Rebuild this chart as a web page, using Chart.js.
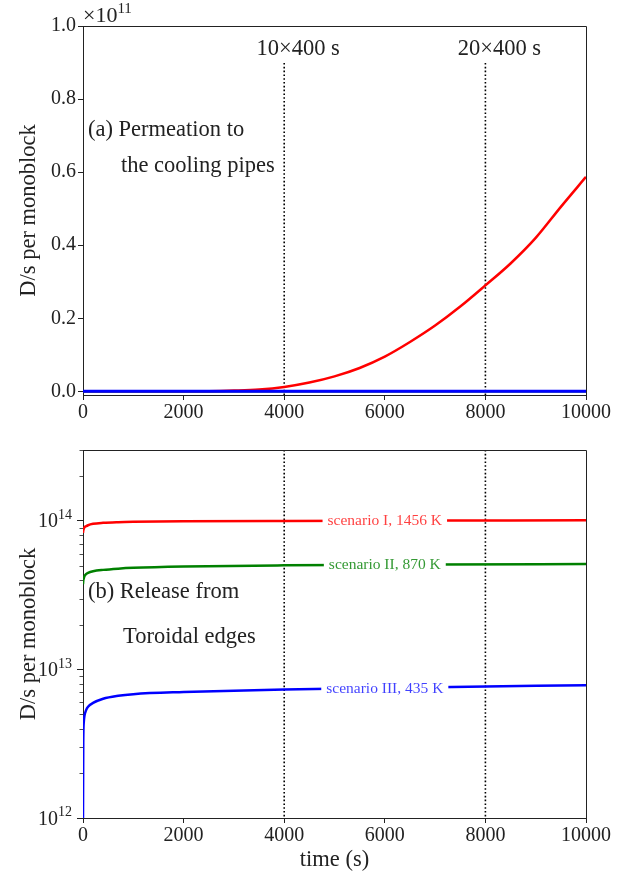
<!DOCTYPE html>
<html>
<head>
<meta charset="utf-8">
<script src="https://cdn.jsdelivr.net/npm/chart.js@4.4.1/dist/chart.umd.min.js"></script>
<style>
  body { margin: 0; background: #fff; }
  canvas { position: absolute; left: 0; }
  #permChart { top: 0; }
  #releaseChart { top: 430px; }
</style>
</head>
<body>
<canvas id="permChart" width="628" height="430"></canvas>
<canvas id="releaseChart" width="628" height="447"></canvas>
<script>
// (a) permeation to the cooling pipes, in units of 1e11 D/s
const permTime = [0, 1000, 2000, 2500, 3000, 3500, 4000, 4500, 5000, 5500, 6000, 6500, 7000, 7500, 8000, 8500, 9000, 9500, 10000];
const permScenarioI = [0, 0, 0, 0.0003, 0.002, 0.005, 0.012, 0.024, 0.041, 0.064, 0.095, 0.135, 0.18, 0.232, 0.29, 0.35, 0.42, 0.505, 0.587];
const permScenarioII = [0, 0, 0, 0, 0, 0, 0, 0, 0, 0, 0, 0, 0, 0, 0, 0, 0, 0, 0];
const permScenarioIII = [0, 0, 0, 0, 0, 0, 0, 0, 0, 0, 0, 0, 0, 0, 0, 0, 0, 0, 0];
const permYTicks = [0, 0.2, 0.4, 0.6, 0.8, 1.0];

// (b) release from toroidal edges, D/s
const relTime = [0, 5, 15, 30, 60, 100, 200, 400, 700, 1000, 2000, 4000, 7000, 10000];
const relScenarioI = [8.3e13, 8.6e13, 8.85e13, 9.05e13, 9.2e13, 9.35e13, 9.55e13, 9.7e13, 9.8e13, 9.85e13, 9.93e13, 1.0e14, 1.005e14, 1.01e14];
const relScenarioII = [3.75e13, 3.95e13, 4.1e13, 4.25e13, 4.38e13, 4.47e13, 4.58e13, 4.68e13, 4.77e13, 4.83e13, 4.93e13, 5.02e13, 5.08e13, 5.12e13];
const relScenarioIII = [1e12, 3.2e12, 4.4e12, 4.9e12, 5.3e12, 5.6e12, 5.95e12, 6.35e12, 6.65e12, 6.82e12, 7.05e12, 7.33e12, 7.6e12, 7.83e12];
const relYTicks = [1e12, 1e13, 1e14];

const xTicks = [0, 2000, 4000, 6000, 8000, 10000];
const markTimes = [4000, 8000];
const markLabels = ['10\u00d7400 s', '20\u00d7400 s'];
const scenarioNames = ['scenario I, 1456 K', 'scenario II, 870 K', 'scenario III, 435 K'];
const labelTime = 6000;

const SERIF = '"Liberation Serif", "DejaVu Serif", serif';
const INK = '#222';
const RED = '#ff0000', GREEN = '#008000', BLUE = '#0000ff';

function pts(xs, ys) { return xs.map((x, i) => ({ x: x, y: ys[i] })); }

function drawPow(ctx, base, exp, xRight, yMid, size) {
  ctx.save();
  ctx.fillStyle = INK;
  ctx.textBaseline = 'alphabetic';
  ctx.textAlign = 'left';
  ctx.font = (size * 0.7) + 'px ' + SERIF;
  const ew = ctx.measureText(exp).width;
  ctx.font = size + 'px ' + SERIF;
  const bw = ctx.measureText(base).width;
  const baseY = yMid + size * 0.33;
  ctx.fillText(base, xRight - ew - bw, baseY);
  ctx.font = (size * 0.7) + 'px ' + SERIF;
  ctx.fillText(exp, xRight - ew, baseY - size * 0.42);
  ctx.restore();
}

const frame = {
  id: 'frame',
  beforeDatasetsDraw(chart) {
    const { ctx, chartArea: a, scales } = chart;
    ctx.save();
    ctx.strokeStyle = '#000';
    ctx.lineWidth = 1.6;
    ctx.setLineDash([1.6, 2.2]);
    const top = chart.canvas.id === 'permChart' ? 63 : a.top;
    markTimes.forEach(t => {
      const x = scales.x.getPixelForValue(t);
      ctx.beginPath();
      ctx.moveTo(x, top);
      ctx.lineTo(x, a.bottom);
      ctx.stroke();
    });
    ctx.restore();
  },
  afterDraw(chart) {
    const { ctx, chartArea: a } = chart;
    ctx.save();
    ctx.strokeStyle = INK;
    ctx.lineWidth = 1;
    ctx.beginPath();
    ctx.moveTo(a.left, a.top + 0.5);
    ctx.lineTo(a.right + 0.5, a.top + 0.5);
    ctx.lineTo(a.right + 0.5, a.bottom);
    ctx.stroke();
    ctx.restore();
  }
};

const permText = {
  id: 'permText',
  afterDraw(chart) {
    const { ctx, chartArea: a, scales } = chart;
    ctx.save();
    ctx.fillStyle = INK;
    ctx.font = '22.5px ' + SERIF;
    ctx.textBaseline = 'alphabetic';
    ctx.textAlign = 'center';
    markTimes.forEach((t, i) => {
      ctx.fillText(markLabels[i], scales.x.getPixelForValue(t) + 14, 55);
    });
    ctx.textAlign = 'left';
    ctx.fillText('(a) Permeation to', a.left + 5, 136);
    ctx.fillText('the cooling pipes', a.left + 38, 172);
    // axis multiplier
    ctx.font = '22px ' + SERIF;
    ctx.fillText('\u00d710', a.left, 22);
    const w = ctx.measureText('\u00d710').width;
    ctx.font = '15px ' + SERIF;
    ctx.fillText('11', a.left + w, 13);
    ctx.restore();
  }
};

function valueAt(xs, ys, t) {
  for (let i = 1; i < xs.length; i++) {
    if (t <= xs[i]) {
      const f = (t - xs[i - 1]) / (xs[i] - xs[i - 1]);
      return Math.pow(10, Math.log10(ys[i - 1]) + f * (Math.log10(ys[i]) - Math.log10(ys[i - 1])));
    }
  }
  return ys[ys.length - 1];
}

const relText = {
  id: 'relText',
  afterDatasetsDraw(chart) {
    const { ctx, scales } = chart;
    ctx.save();
    // inline line labels
    ctx.font = '15.5px ' + SERIF;
    ctx.textAlign = 'center';
    ctx.textBaseline = 'middle';
    const series = [relScenarioI, relScenarioII, relScenarioIII];
    const cols = ['rgba(255,0,0,0.75)', 'rgba(0,128,0,0.8)', 'rgba(0,0,255,0.75)'];
    series.forEach((ys, i) => {
      const x = scales.x.getPixelForValue(labelTime);
      const y = scales.y.getPixelForValue(valueAt(relTime, ys, labelTime));
      const w = ctx.measureText(scenarioNames[i]).width;
      ctx.fillStyle = '#fff';
      ctx.fillRect(x - w / 2 - 5, y - 8, w + 10, 16);
      ctx.fillStyle = cols[i];
      ctx.fillText(scenarioNames[i], x, y + 0.5);
    });
    ctx.restore();
  },
  afterDraw(chart) {
    const { ctx, chartArea: a, scales } = chart;
    ctx.save();
    ctx.fillStyle = INK;
    ctx.font = '22.5px ' + SERIF;
    ctx.textAlign = 'left';
    ctx.textBaseline = 'alphabetic';
    ctx.fillText('(b) Release from', a.left + 5, 168);
    ctx.fillText('Toroidal edges', a.left + 40, 213);
    // minor log ticks
    ctx.strokeStyle = INK;
    ctx.lineWidth = 0.8;
    const ys = scales.y;
    for (let d = 12; d <= 14; d++) {
      for (let k = 2; k <= 9; k++) {
        const v = k * Math.pow(10, d);
        if (v > ys.max) continue;
        const p = Math.round(ys.getPixelForValue(v)) + 0.5;
        ctx.beginPath();
        ctx.moveTo(a.left - 3.5, p);
        ctx.lineTo(a.left, p);
        ctx.stroke();
      }
    }
    // major tick labels with superscripts
    relYTicks.forEach(v => {
      drawPow(ctx, '10', String(Math.round(Math.log10(v))), a.left - 11, ys.getPixelForValue(v), 20);
    });
    ctx.restore();
  }
};

function xAxis(height, title) {
  return {
    type: 'linear',
    min: 0,
    max: 10000,
    afterBuildTicks: s => { s.ticks = xTicks.map(v => ({ value: v })); },
    afterFit: s => { s.height = height; },
    grid: { drawOnChartArea: false, drawTicks: true, tickLength: 5, color: INK },
    border: { color: INK, width: 1 },
    ticks: { color: INK, font: { family: SERIF, size: 20 }, padding: 1, maxRotation: 0, callback: v => String(v) },
    title: title ? { display: true, text: title, color: INK, font: { family: SERIF, size: 22.5 }, padding: { top: 0, bottom: 3 } } : { display: false }
  };
}

function yTitle() {
  return { display: true, text: 'D/s per monoblock', color: INK, font: { family: SERIF, size: 22.5 }, padding: { top: 16, bottom: 0 } };
}

function line(data, color, width, order) {
  return { data: data, borderColor: color, borderWidth: width, pointRadius: 0, fill: false, cubicInterpolationMode: 'monotone', order: order };
}

Chart.defaults.animation = false;

new Chart(document.getElementById('permChart'), {
  type: 'line',
  data: {
    datasets: [
      line(pts(permTime, permScenarioI), RED, 2.5, 2),
      line(pts(permTime, permScenarioII), GREEN, 2.5, 1),
      line(pts(permTime, permScenarioIII), BLUE, 3, 0)
    ]
  },
  options: {
    responsive: false,
    layout: { padding: { top: 26, right: 42, left: 0, bottom: 0 } },
    plugins: { legend: { display: false }, tooltip: { enabled: false } },
    scales: {
      x: xAxis(35, null),
      y: {
        type: 'linear',
        min: -0.01,
        max: 1.0,
        afterBuildTicks: s => { s.ticks = permYTicks.map(v => ({ value: v })); },
        afterFit: s => { s.width = 83; },
        grid: { drawOnChartArea: false, drawTicks: true, tickLength: 5, color: INK },
        border: { color: INK, width: 1 },
        ticks: { color: INK, font: { family: SERIF, size: 20 }, padding: 2, callback: v => v.toFixed(1) },
        title: yTitle()
      }
    }
  },
  plugins: [frame, permText]
});

new Chart(document.getElementById('releaseChart'), {
  type: 'line',
  data: {
    datasets: [
      line(pts(relTime, relScenarioI), RED, 2.5, 2),
      line(pts(relTime, relScenarioII), GREEN, 2.5, 1),
      line(pts(relTime, relScenarioIII), BLUE, 2.5, 0)
    ]
  },
  options: {
    responsive: false,
    layout: { padding: { top: 20, right: 42, left: 0, bottom: 0 } },
    plugins: { legend: { display: false }, tooltip: { enabled: false } },
    scales: {
      x: xAxis(59, 'time (s)'),
      y: {
        type: 'logarithmic',
        min: 1e12,
        max: 3e14,
        afterBuildTicks: s => { s.ticks = relYTicks.map(v => ({ value: v })); },
        afterFit: s => { s.width = 83; },
        grid: { drawOnChartArea: false, drawTicks: true, tickLength: 6, color: INK },
        border: { color: INK, width: 1 },
        ticks: { display: false },
        title: yTitle()
      }
    }
  },
  plugins: [frame, relText]
});
</script>
</body>
</html>
